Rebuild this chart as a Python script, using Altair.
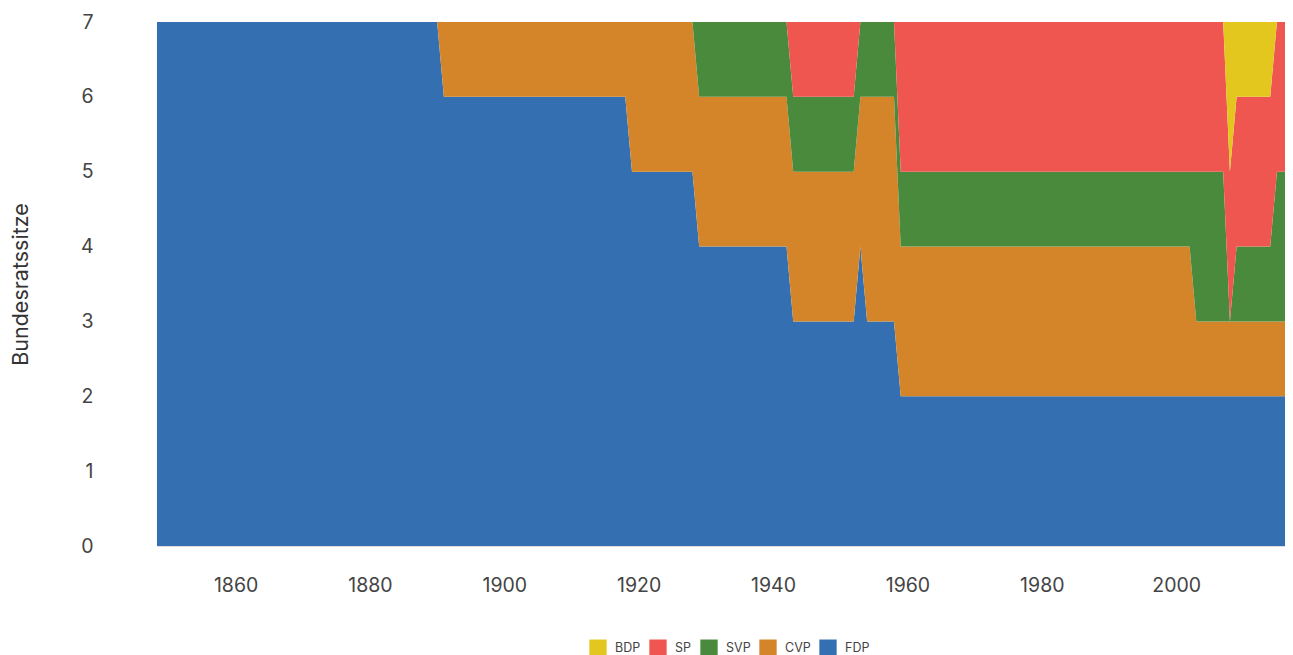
import altair as alt
import pandas as pd

# Breakpoint years (seat counts change linearly between consecutive years)
years = [1848, 1890, 1891, 1918, 1919, 1928, 1929, 1942, 1943, 1952, 1953,
         1954, 1958, 1959, 2002, 2003, 2007, 2008, 2009, 2014, 2015, 2018]
fdp = [7, 7, 6, 6, 5, 5, 4, 4, 3, 3, 4, 3, 3, 2, 2, 2, 2, 2, 2, 2, 2, 2]
cvp = [0, 0, 1, 1, 2, 2, 2, 2, 2, 2, 2, 3, 3, 2, 2, 1, 1, 1, 1, 1, 1, 1]
svp = [0, 0, 0, 0, 0, 0, 1, 1, 1, 1, 1, 1, 1, 1, 1, 2, 2, 0, 1, 1, 2, 2]
sp = [0, 0, 0, 0, 0, 0, 0, 0, 1, 1, 0, 0, 0, 2, 2, 2, 2, 2, 2, 2, 2, 2]
bdp = [0, 0, 0, 0, 0, 0, 0, 0, 0, 0, 0, 0, 0, 0, 0, 0, 0, 2, 1, 1, 0, 0]

parties = ["FDP", "CVP", "SVP", "SP", "BDP"]
series = {"FDP": fdp, "CVP": cvp, "SVP": svp, "SP": sp, "BDP": bdp}
legend_order = ["BDP", "SP", "SVP", "CVP", "FDP"]
colors = ["#E3C71F", "#EF5650", "#4A8A3C", "#D4852A", "#336FB1"]
x_ticks = [1860, 1880, 1900, 1920, 1940, 1960, 1980, 2000]

rows = []
for rank, p in enumerate(parties):
    for y, v in zip(years, series[p]):
        rows.append({"Jahr": y, "Partei": p, "Sitze": v, "rank": rank})
df = pd.DataFrame(rows)

FONT = "Inter"

chart = alt.Chart(df).mark_area(clip=True, interpolate="linear").encode(
    x=alt.X("Jahr:Q",
            scale=alt.Scale(domain=[1848.3, 2016.2], nice=False, zero=False),
            axis=alt.Axis(values=x_ticks, format="d", title=None, grid=False,
                          domain=False, ticks=False, labelPadding=30,
                          labelFontSize=19.5, labelColor="#444444", labelFont=FONT)),
    y=alt.Y("Sitze:Q", stack="zero",
            scale=alt.Scale(domain=[0, 7], nice=False),
            axis=alt.Axis(values=[0, 1, 2, 3, 4, 5, 6, 7], title="Bundesratssitze",
                          grid=False, domain=False, ticks=False, labelPadding=64,
                          labelFontSize=19.5, labelColor="#444444", labelFont=FONT,
                          titleFont=FONT, titleFontSize=21.5, titleFontWeight="normal",
                          titleColor="#333333", titlePadding=48)),
    color=alt.Color("Partei:N",
                    scale=alt.Scale(domain=legend_order, range=colors),
                    legend=alt.Legend(title=None, orient="none", direction="horizontal",
                                      legendX=432, legendY=617,
                                      symbolType="square", symbolSize=300,
                                      symbolStrokeWidth=0, symbolOpacity=1,
                                      labelFont=FONT, labelFontSize=12.5,
                                      labelColor="#444444", labelOffset=8,
                                      columnPadding=8)),
    order=alt.Order("rank:Q", sort="ascending"),
).properties(
    width=1128,
    height=524,
    autosize=alt.AutoSizeParams(type="none"),
    padding={"left": 149, "top": 14, "right": 0, "bottom": 110},
).configure_view(stroke=None).configure(background="white")

chart.save("out.html", embed_options={"renderer": "svg", "actions": False})
